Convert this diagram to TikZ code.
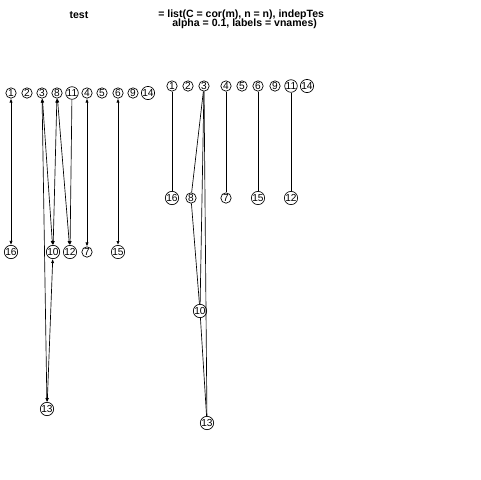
\documentclass[tikz,border=0pt]{standalone}
\usepackage{fontspec}
\setmainfont{Liberation Sans}
\usetikzlibrary{arrows.meta}
\begin{document}
\begin{tikzpicture}[x=0.75pt,y=-0.75pt,
  vtx/.style={circle,draw=black,line width=0.5pt,minimum size=7.8pt,inner sep=0pt,font=\fontsize{7.6}{8}\selectfont},
  edg/.style={line width=0.5pt,black},
  bi/.style={edg,{Latex[length=3pt,width=2.4pt]}-{Latex[length=3pt,width=2.4pt]}},
  di/.style={edg,-{Latex[length=3pt,width=2.4pt]}},
  ttl/.style={font=\fontsize{7.9}{8.6}\selectfont\bfseries,inner sep=0pt,align=center}]
\useasboundingbox[fill=white] (0,0) rectangle (480,480);
% titles
\node[ttl] (t1) at (79,15) {test};
\node[ttl,anchor=west] (t2a) at (158,15) {= list(C = cor(m), n = n), indepTes};
\node[ttl,anchor=west] (t2b) at (172,24) {alpha = 0.1, labels = vnames)};
% left graph nodes
\node[vtx] (L1) at (11,93) {1};
\node[vtx] (L2) at (27,93) {2};
\node[vtx] (L3) at (42,93) {3};
\node[vtx] (L8) at (57,93) {8};
\node[vtx] (L11) at (72,93) {11};
\node[vtx] (L4) at (87,93) {4};
\node[vtx] (L5) at (102,93) {5};
\node[vtx] (L6) at (118,93) {6};
\node[vtx] (L9) at (133,93) {9};
\node[vtx] (L14) at (148,93) {14};
\node[vtx] (L16) at (11,252) {16};
\node[vtx] (L10) at (53,252) {10};
\node[vtx] (L12) at (70,252) {12};
\node[vtx] (L7) at (87,252) {7};
\node[vtx] (L15) at (118,252) {15};
\node[vtx] (L13) at (47,409) {13};
% left graph edges
\draw[bi] (L1) -- (L16);
\draw[bi] (L3) -- (L10);
\draw[bi] (L3) -- (L13);
\draw[bi] (L8) -- (L10);
\draw[bi] (L8) -- (L12);
\draw[di] (L11) -- (L12);
\draw[bi] (L4) -- (L7);
\draw[bi] (L6) -- (L15);
\draw[bi] (L10) -- (L13);
% right graph nodes
\node[vtx] (R1) at (172,86) {1};
\node[vtx] (R2) at (188,86) {2};
\node[vtx] (R3) at (204,86) {3};
\node[vtx] (R4) at (226,86) {4};
\node[vtx] (R5) at (242,86) {5};
\node[vtx] (R6) at (258,86) {6};
\node[vtx] (R9) at (275,86) {9};
\node[vtx] (R11) at (291,86) {11};
\node[vtx] (R14) at (307,86) {14};
\node[vtx] (R16) at (172,198) {16};
\node[vtx] (R8) at (191,198) {8};
\node[vtx] (R7) at (226,198) {7};
\node[vtx] (R15) at (258,198) {15};
\node[vtx] (R12) at (291,198) {12};
\node[vtx] (R10) at (200,311) {10};
\node[vtx] (R13) at (207,423) {13};
% right graph edges
\draw[edg] (R1) -- (R16);
\draw[edg] (R3) -- (R8);
\draw[edg] (R3) -- (R10);
\draw[edg] (R3) -- (R13);
\draw[edg] (R8) -- (R10);
\draw[edg] (R10) -- (R13);
\draw[edg] (R4) -- (R7);
\draw[edg] (R6) -- (R15);
\draw[edg] (R11) -- (R12);
\end{tikzpicture}
\end{document}
